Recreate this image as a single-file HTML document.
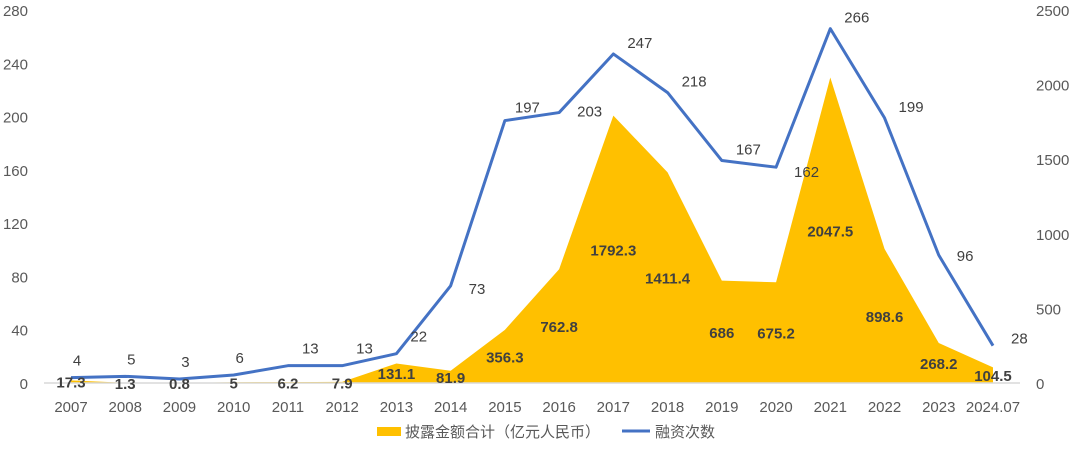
<!DOCTYPE html>
<html><head><meta charset="utf-8"><style>
body{margin:0;background:#fff;}
svg{display:block;font-family:"Liberation Sans","Noto Sans CJK SC",sans-serif;}
</style></head><body>
<svg id="c" width="1080" height="452"></svg>
<script>
const categories=["2007","2008","2009","2010","2011","2012","2013","2014","2015","2016","2017","2018","2019","2020","2021","2022","2023","2024.07"];
const amounts=[17.3,1.3,0.8,5,6.2,7.9,131.1,81.9,356.3,762.8,1792.3,1411.4,686,675.2,2047.5,898.6,268.2,104.5];
const counts=[4,5,3,6,13,13,22,73,197,203,247,218,167,162,266,199,96,28];
const leftTicks=[0,40,80,120,160,200,240,280];
const rightTicks=[0,500,1000,1500,2000,2500];
const NS="http://www.w3.org/2000/svg";
const svg=document.getElementById('c');
const x0=71,x1=993,yb=383,yt=10;
const xs=i=>x0+i*(x1-x0)/(categories.length-1);
const yl=v=>yb-v/280*(yb-yt);
const yr=v=>yb-v/2500*(yb-yt);
function mk(t,a,txt){const e=document.createElementNS(NS,t);for(const k in a)e.setAttribute(k,a[k]);if(txt!==undefined)e.textContent=txt;svg.appendChild(e);return e;}
// area
let d="M"+xs(0)+","+yb;
amounts.forEach((v,i)=>{d+=" L"+xs(i)+","+yr(v);});
d+=" L"+xs(amounts.length-1)+","+yb+" Z";
const area=mk('path',{d:d,fill:'#FFC000'});


// baseline
const ax=mk('line',{x1:44,x2:1020,y1:yb,y2:yb,stroke:'#d9d9d9','stroke-width':1.5});


// left ticks
leftTicks.forEach(v=>{const t=mk('text',{x:28,y:yl(v)+6,'text-anchor':'end','font-size':15,fill:'#595959'},v);

});
rightTicks.forEach(v=>{const t=mk('text',{x:1036,y:yr(v)+6,'text-anchor':'start','font-size':15,fill:'#595959'},v);

});
categories.forEach((c,i)=>{const t=mk('text',{x:xs(i),y:412,'text-anchor':'middle','font-size':15,fill:'#595959'},c);

});
// line
const pts=counts.map((v,i)=>xs(i)+","+yl(v)).join(" ");
const ln=mk('polyline',{points:pts,fill:'none',stroke:'#4472C4','stroke-width':3,'stroke-linejoin':'round'});


// amount labels
amounts.forEach((v,i)=>{let y=yb-(yb-yr(v))/2+6;if(y>389)y=389;
const t=mk('text',{x:xs(i),y:y,'text-anchor':'middle','font-size':15,'font-weight':'bold',fill:'#404040'},v);

});
// count labels
counts.forEach((v,i)=>{let dx,dy;
if(i<7){dx=6;dy=-12;}else if(i==8){dx=10;dy=-8;}else if([7,9,13,16,17].includes(i)){dx=18;dy=i==7?8:(i==9?4:(i==13?10:(i==16?6:-2)));}else{dx=14;dy=-6;}
if(i<7&&i>=4)dx=14;
const t=mk('text',{x:xs(i)+dx,y:yl(v)+dy,'text-anchor':'start','font-size':15,fill:'#404040'},v);
if(i<4)t.setAttribute('text-anchor','middle');

});
// legend
const lr=mk('rect',{x:377,y:427,width:24,height:9,fill:'#FFC000'});


const lt=mk('text',{x:405,y:437,'font-size':15,fill:'#595959'},'披露金额合计（亿元人民币）');


const ll=mk('line',{x1:622,x2:650,y1:431,y2:431,stroke:'#4472C4','stroke-width':3});


const lt2=mk('text',{x:655,y:437,'font-size':15,fill:'#595959'},'融资次数');


</script>
</body></html>
